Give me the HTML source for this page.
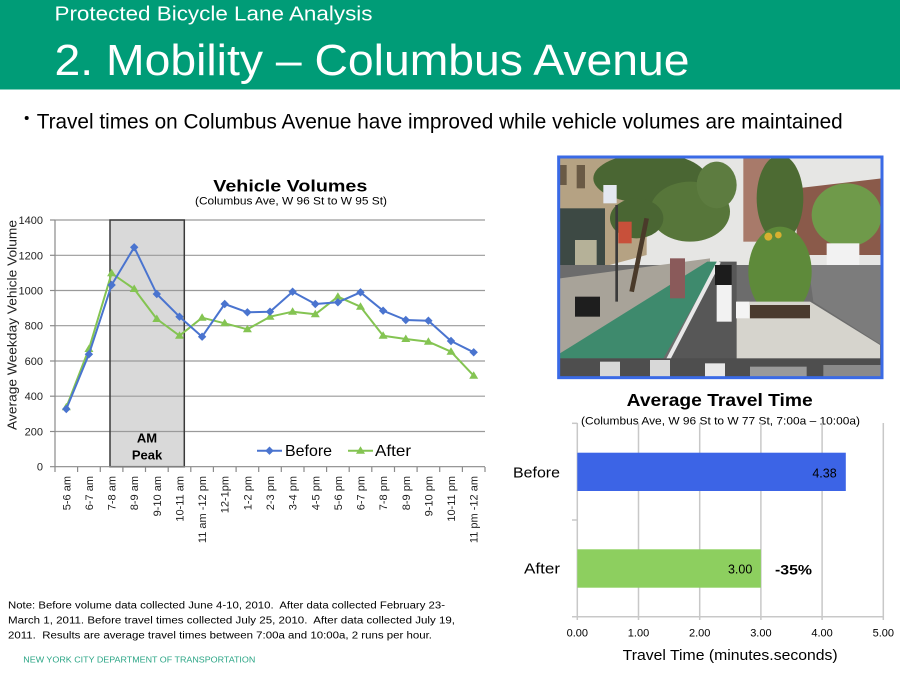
<!DOCTYPE html>
<html><head><meta charset="utf-8"><style>
html,body{margin:0;padding:0;background:#fff;}
svg{display:block;font-family:"Liberation Sans",sans-serif;}
text{white-space:pre;}
</style></head><body>
<svg width="900" height="680" viewBox="0 0 900 680" xmlns="http://www.w3.org/2000/svg">
<rect width="900" height="680" fill="#fff"/>
<!-- header -->
<rect x="0" y="0" width="900" height="89.5" fill="#009c77"/>
<text x="54.5" y="20.7" font-size="20" fill="#fff" textLength="318" lengthAdjust="spacingAndGlyphs">Protected Bicycle Lane Analysis</text>
<text x="54.5" y="75" font-size="43.5" fill="#fff" textLength="635" lengthAdjust="spacingAndGlyphs">2. Mobility – Columbus Avenue</text>
<circle cx="26.7" cy="118" r="2" fill="#000"/>
<text x="36.7" y="128.3" font-size="21" fill="#000" textLength="806" lengthAdjust="spacingAndGlyphs">Travel times on Columbus Avenue have improved while vehicle volumes are maintained</text>

<!-- line chart -->
<text x="213.3" y="191.7" font-size="16.5" font-weight="bold" fill="#000" textLength="154" lengthAdjust="spacingAndGlyphs">Vehicle Volumes</text>
<text x="195" y="204.3" font-size="11" fill="#000" textLength="192" lengthAdjust="spacingAndGlyphs">(Columbus Ave, W 96 St to W 95 St)</text>

<rect x="110" y="220" width="74.3" height="246.7" fill="#d9d9d9"/>
<g stroke="#9a9a9a" stroke-width="1.2">
<line x1="55" y1="431.5" x2="485" y2="431.5"/>
<line x1="55" y1="396.2" x2="485" y2="396.2"/>
<line x1="55" y1="361" x2="485" y2="361"/>
<line x1="55" y1="325.7" x2="485" y2="325.7"/>
<line x1="55" y1="290.5" x2="485" y2="290.5"/>
<line x1="55" y1="255.3" x2="485" y2="255.3"/>
<line x1="55" y1="220" x2="485" y2="220"/>
</g>
<rect x="110" y="220" width="74.3" height="246.7" fill="none" stroke="#3a3a3a" stroke-width="1.5"/>
<text x="147" y="442.5" font-size="13" font-weight="bold" text-anchor="middle" fill="#000">AM</text>
<text x="147" y="459.5" font-size="13" font-weight="bold" text-anchor="middle" fill="#000">Peak</text>
<g stroke="#8a8a8a" stroke-width="1.2">
<line x1="55" y1="220" x2="55" y2="467"/>
<line x1="50" y1="466.7" x2="485" y2="466.7"/>
<line x1="50" y1="431.5" x2="55" y2="431.5"/>
<line x1="50" y1="396.2" x2="55" y2="396.2"/>
<line x1="50" y1="361" x2="55" y2="361"/>
<line x1="50" y1="325.7" x2="55" y2="325.7"/>
<line x1="50" y1="290.5" x2="55" y2="290.5"/>
<line x1="50" y1="255.3" x2="55" y2="255.3"/>
<line x1="50" y1="220" x2="55" y2="220"/>
<line x1="55" y1="467" x2="55" y2="472"/><line x1="77.6" y1="467" x2="77.6" y2="472"/><line x1="100.3" y1="467" x2="100.3" y2="472"/><line x1="122.9" y1="467" x2="122.9" y2="472"/><line x1="145.5" y1="467" x2="145.5" y2="472"/><line x1="168.2" y1="467" x2="168.2" y2="472"/><line x1="190.8" y1="467" x2="190.8" y2="472"/><line x1="213.4" y1="467" x2="213.4" y2="472"/><line x1="236.1" y1="467" x2="236.1" y2="472"/><line x1="258.7" y1="467" x2="258.7" y2="472"/><line x1="281.3" y1="467" x2="281.3" y2="472"/><line x1="304" y1="467" x2="304" y2="472"/><line x1="326.6" y1="467" x2="326.6" y2="472"/><line x1="349.2" y1="467" x2="349.2" y2="472"/><line x1="371.8" y1="467" x2="371.8" y2="472"/><line x1="394.5" y1="467" x2="394.5" y2="472"/><line x1="417.1" y1="467" x2="417.1" y2="472"/><line x1="439.7" y1="467" x2="439.7" y2="472"/><line x1="462.4" y1="467" x2="462.4" y2="472"/><line x1="485" y1="467" x2="485" y2="472"/>
</g>
<g font-size="11" fill="#222" text-anchor="end">
<text x="43" y="470.7">0</text>
<text x="43" y="435.5">200</text>
<text x="43" y="400.2">400</text>
<text x="43" y="365">600</text>
<text x="43" y="329.7">800</text>
<text x="43" y="294.5">1000</text>
<text x="43" y="259.3">1200</text>
<text x="43" y="224">1400</text>
</g>
<text transform="translate(16.5,325) rotate(-90)" font-size="13" fill="#222" text-anchor="middle" textLength="210" lengthAdjust="spacingAndGlyphs">Average Weekday Vehicle Volume</text>
<g font-size="11" fill="#222" text-anchor="end">
<text transform="translate(70.3,476) rotate(-90)">5-6 am</text>
<text transform="translate(92.9,476) rotate(-90)">6-7 am</text>
<text transform="translate(115.6,476) rotate(-90)">7-8 am</text>
<text transform="translate(138.2,476) rotate(-90)">8-9 am</text>
<text transform="translate(160.8,476) rotate(-90)">9-10 am</text>
<text transform="translate(183.5,476) rotate(-90)">10-11 am</text>
<text transform="translate(206.1,476) rotate(-90)">11 am -12 pm</text>
<text transform="translate(228.7,476) rotate(-90)">12-1pm</text>
<text transform="translate(251.4,476) rotate(-90)">1-2 pm</text>
<text transform="translate(274,476) rotate(-90)">2-3 pm</text>
<text transform="translate(296.6,476) rotate(-90)">3-4 pm</text>
<text transform="translate(319.3,476) rotate(-90)">4-5 pm</text>
<text transform="translate(341.9,476) rotate(-90)">5-6 pm</text>
<text transform="translate(364.5,476) rotate(-90)">6-7 pm</text>
<text transform="translate(387.1,476) rotate(-90)">7-8 pm</text>
<text transform="translate(409.8,476) rotate(-90)">8-9 pm</text>
<text transform="translate(432.4,476) rotate(-90)">9-10 pm</text>
<text transform="translate(455,476) rotate(-90)">10-11 pm</text>
<text transform="translate(477.7,476) rotate(-90)">11 pm -12 am</text>
</g>
<!-- After series -->
<polyline fill="none" stroke="#84c452" stroke-width="2" stroke-linejoin="round" points="66.3,407.3 88.9,349 111.6,273.3 134.2,289 156.8,319 179.5,335.7 202.1,317.7 224.7,323.3 247.4,329.3 270,316.7 292.6,311.7 315.3,314.3 337.9,296.7 360.5,306.7 383.1,335.7 405.8,339 428.4,341.7 451,351.7 473.7,375.7"/>
<g fill="#84c452">
<path d="M66.3,402.8 L70.8,410.3 L61.8,410.3Z"/><path d="M88.9,344.5 L93.4,352 L84.4,352Z"/><path d="M111.6,268.8 L116.1,276.3 L107.1,276.3Z"/><path d="M134.2,284.5 L138.7,292 L129.7,292Z"/><path d="M156.8,314.5 L161.3,322 L152.3,322Z"/><path d="M179.5,331.2 L184,338.7 L175,338.7Z"/><path d="M202.1,313.2 L206.6,320.7 L197.6,320.7Z"/><path d="M224.7,318.8 L229.2,326.3 L220.2,326.3Z"/><path d="M247.4,324.8 L251.9,332.3 L242.9,332.3Z"/><path d="M270,312.2 L274.5,319.7 L265.5,319.7Z"/><path d="M292.6,307.2 L297.1,314.7 L288.1,314.7Z"/><path d="M315.3,309.8 L319.8,317.3 L310.8,317.3Z"/><path d="M337.9,292.2 L342.4,299.7 L333.4,299.7Z"/><path d="M360.5,302.2 L365,309.7 L356,309.7Z"/><path d="M383.1,331.2 L387.6,338.7 L378.6,338.7Z"/><path d="M405.8,334.5 L410.3,342 L401.3,342Z"/><path d="M428.4,337.2 L432.9,344.7 L423.9,344.7Z"/><path d="M451,347.2 L455.5,354.7 L446.5,354.7Z"/><path d="M473.7,371.2 L478.2,378.7 L469.2,378.7Z"/>
</g>
<!-- Before series -->
<polyline fill="none" stroke="#4a74cf" stroke-width="2" stroke-linejoin="round" points="66.3,409 88.9,354.3 111.6,285 134.2,247.3 156.8,294 179.5,316.7 202.1,336.7 224.7,304 247.4,312.3 270,311.7 292.6,291.7 315.3,304 337.9,302.3 360.5,292.3 383.1,310.7 405.8,320 428.4,320.7 451,341 473.7,352.3"/>
<g fill="#4a74cf">
<path d="M66.3,404.8 L70.5,409 L66.3,413.2 L62.1,409Z"/><path d="M88.9,350.1 L93.1,354.3 L88.9,358.5 L84.7,354.3Z"/><path d="M111.6,280.8 L115.8,285 L111.6,289.2 L107.4,285Z"/><path d="M134.2,243.1 L138.4,247.3 L134.2,251.5 L130,247.3Z"/><path d="M156.8,289.8 L161,294 L156.8,298.2 L152.6,294Z"/><path d="M179.5,312.5 L183.7,316.7 L179.5,320.9 L175.3,316.7Z"/><path d="M202.1,332.5 L206.3,336.7 L202.1,340.9 L197.9,336.7Z"/><path d="M224.7,299.8 L228.9,304 L224.7,308.2 L220.5,304Z"/><path d="M247.4,308.1 L251.6,312.3 L247.4,316.5 L243.2,312.3Z"/><path d="M270,307.5 L274.2,311.7 L270,315.9 L265.8,311.7Z"/><path d="M292.6,287.5 L296.8,291.7 L292.6,295.9 L288.4,291.7Z"/><path d="M315.3,299.8 L319.5,304 L315.3,308.2 L311.1,304Z"/><path d="M337.9,298.1 L342.1,302.3 L337.9,306.5 L333.7,302.3Z"/><path d="M360.5,288.1 L364.7,292.3 L360.5,296.5 L356.3,292.3Z"/><path d="M383.1,306.5 L387.3,310.7 L383.1,314.9 L378.9,310.7Z"/><path d="M405.8,315.8 L410,320 L405.8,324.2 L401.6,320Z"/><path d="M428.4,316.5 L432.6,320.7 L428.4,324.9 L424.2,320.7Z"/><path d="M451,336.8 L455.2,341 L451,345.2 L446.8,341Z"/><path d="M473.7,348.1 L477.9,352.3 L473.7,356.5 L469.5,352.3Z"/>
</g>
<!-- legend -->
<line x1="257" y1="450.7" x2="282" y2="450.7" stroke="#4a74cf" stroke-width="2"/>
<path d="M269.5,446.5 L273.7,450.7 L269.5,454.9 L265.3,450.7Z" fill="#4a74cf"/>
<text x="285" y="456" font-size="16" fill="#000" textLength="47" lengthAdjust="spacingAndGlyphs">Before</text>
<line x1="348" y1="450.7" x2="373" y2="450.7" stroke="#84c452" stroke-width="2"/>
<path d="M360.5,446.2 L365,453.7 L356,453.7Z" fill="#84c452"/>
<text x="375" y="456" font-size="16" fill="#000" textLength="36" lengthAdjust="spacingAndGlyphs">After</text>

<!-- photo -->
<defs><clipPath id="pc"><rect x="30" y="38" width="965" height="657"/></clipPath></defs>
<g transform="translate(550,145) scale(0.33333)">
<g clip-path="url(#pc)">
<rect x="0" y="0" width="1020" height="720" fill="#e6e6e4"/>
<polygon points="30,38 290,38 290,330 30,400" fill="#b5a283"/>
<rect x="30" y="60" width="20" height="60" fill="#6a5a45"/>
<rect x="80" y="60" width="25" height="70" fill="#6a5a45"/>
<rect x="580" y="40" width="80" height="250" fill="#a87a6a"/>
<polygon points="740,130 995,100 995,330 740,330" fill="#8a5a4a"/>
<ellipse cx="300" cy="100" rx="170" ry="75" fill="#4a6633"/>
<ellipse cx="420" cy="200" rx="120" ry="90" fill="#57763a"/>
<ellipse cx="260" cy="220" rx="80" ry="60" fill="#4a6633"/>
<ellipse cx="500" cy="120" rx="60" ry="70" fill="#5d7c40"/>
<ellipse cx="690" cy="160" rx="70" ry="130" fill="#4d6b33"/>
<ellipse cx="890" cy="210" rx="105" ry="95" fill="#6f9a4a"/>
<rect x="30" y="190" width="135" height="210" fill="#3d4944"/>
<rect x="75" y="285" width="65" height="85" fill="#b5b198"/>
<rect x="205" y="230" width="40" height="65" fill="#c8503a"/>
<rect x="160" y="120" width="40" height="55" fill="#e4e8f0"/>
<rect x="30" y="360" width="965" height="340" fill="#6c6c6c"/>
<polygon points="30,400 480,340 480,355 30,625" fill="#a8a399"/>
<polygon points="30,625 472,350 505,350 340,640 30,640" fill="#3e8a6d"/>
<polygon points="505,350 560,350 560,700 320,700" fill="#575757"/>
<line x1="507" y1="350" x2="325" y2="700" stroke="#e8e8e8" stroke-width="12"/>
<polygon points="775,360 995,360 995,600 790,470" fill="#7c7c7c"/>
<rect x="830" y="295" width="98" height="65" fill="#f2f2f2"/>
<ellipse cx="690" cy="380" rx="95" ry="135" fill="#5e8a3a"/>
<circle cx="655" cy="275" r="12" fill="#d8b030"/>
<circle cx="685" cy="270" r="10" fill="#d8b030"/>
<polygon points="560,470 780,470 990,600 990,670 560,670" fill="#d6d4cd"/>
<rect x="600" y="480" width="180" height="40" fill="#4a3a2e"/>
<rect x="558" y="470" width="40" height="50" fill="#f4f4f4"/>
<rect x="495" y="360" width="50" height="60" fill="#1c1c1c"/>
<rect x="500" y="420" width="45" height="110" fill="#f2f2f2"/>
<rect x="360" y="340" width="45" height="120" fill="#8a5a5a"/>
<line x1="245" y1="440" x2="290" y2="220" stroke="#4a3a2a" stroke-width="14"/>
<line x1="200" y1="470" x2="200" y2="180" stroke="#3a3a3a" stroke-width="8"/>
<rect x="75" y="455" width="75" height="60" fill="#1e1e1e"/>
<rect x="30" y="640" width="965" height="60" fill="#4e4e4e"/>
<rect x="150" y="650" width="60" height="45" fill="#d8d8d8"/>
<rect x="300" y="645" width="60" height="50" fill="#d8d8d8"/>
<rect x="465" y="655" width="60" height="40" fill="#e8e8e8"/>
<rect x="600" y="665" width="170" height="30" fill="#9a9a9a"/>
<rect x="820" y="660" width="175" height="35" fill="#8a8a8a"/>
</g>
<rect x="26" y="36" width="970" height="662" fill="none" stroke="#3a6ae6" stroke-width="9"/>
</g>

<!-- bar chart -->
<text x="626.7" y="406" font-size="17.5" font-weight="bold" fill="#000" textLength="186" lengthAdjust="spacingAndGlyphs">Average Travel Time</text>
<text x="581" y="424.5" font-size="11" fill="#000" textLength="279" lengthAdjust="spacingAndGlyphs">(Columbus Ave, W 96 St to W 77 St, 7:00a – 10:00a)</text>
<g stroke="#c8c8c8" stroke-width="1.5">
<line x1="638.5" y1="423" x2="638.5" y2="620"/>
<line x1="699.7" y1="423" x2="699.7" y2="620"/>
<line x1="760.9" y1="423" x2="760.9" y2="620"/>
<line x1="822.1" y1="423" x2="822.1" y2="620"/>
<line x1="883.3" y1="423" x2="883.3" y2="620"/>
<line x1="577.3" y1="423" x2="577.3" y2="620"/>
<line x1="572" y1="616.7" x2="883.3" y2="616.7"/>
<line x1="572" y1="423.3" x2="577.3" y2="423.3"/>
<line x1="572" y1="520" x2="577.3" y2="520"/>
</g>
<rect x="577.3" y="452.7" width="268.5" height="38.3" fill="#3c64e6"/>
<rect x="577.3" y="549.3" width="183.6" height="38.4" fill="#8dcf5f"/>
<text x="836.7" y="477.5" font-size="12.5" fill="#000" text-anchor="end">4.38</text>
<text x="752.3" y="573.5" font-size="12.5" fill="#000" text-anchor="end">3.00</text>
<text x="775" y="574.5" font-size="14" font-weight="bold" fill="#000" textLength="37" lengthAdjust="spacingAndGlyphs">-35%</text>
<text x="560" y="477.7" font-size="15" fill="#000" text-anchor="end" textLength="47" lengthAdjust="spacingAndGlyphs">Before</text>
<text x="560" y="573.3" font-size="15" fill="#000" text-anchor="end" textLength="36" lengthAdjust="spacingAndGlyphs">After</text>
<g font-size="11" fill="#000" text-anchor="middle">
<text x="577.3" y="636.7">0.00</text>
<text x="638.5" y="636.7">1.00</text>
<text x="699.7" y="636.7">2.00</text>
<text x="760.9" y="636.7">3.00</text>
<text x="822.1" y="636.7">4.00</text>
<text x="883.3" y="636.7">5.00</text>
</g>
<text x="622.7" y="660" font-size="15" fill="#000" textLength="215" lengthAdjust="spacingAndGlyphs">Travel Time (minutes.seconds)</text>

<!-- footnote -->
<g font-size="10" fill="#000">
<text x="8" y="608.3" textLength="437" lengthAdjust="spacingAndGlyphs">Note: Before volume data collected June 4-10, 2010.  After data collected February 23-</text>
<text x="8" y="623.3" textLength="447" lengthAdjust="spacingAndGlyphs">March 1, 2011. Before travel times collected July 25, 2010.  After data collected July 19,</text>
<text x="8" y="638.3" textLength="424" lengthAdjust="spacingAndGlyphs">2011.  Results are average travel times between 7:00a and 10:00a, 2 runs per hour.</text>
</g>
<text x="23.3" y="662.7" font-size="8.5" fill="#2aa585" textLength="232" lengthAdjust="spacingAndGlyphs">NEW YORK CITY DEPARTMENT OF TRANSPORTATION</text>
</svg>
</body></html>
